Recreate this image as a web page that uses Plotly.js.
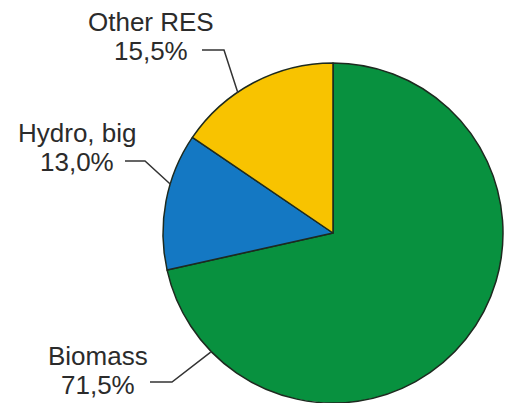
<!DOCTYPE html>
<html>
<head>
<meta charset="utf-8">
<script src="https://cdn.plot.ly/plotly-3.0.1.min.js"></script>
<style>
  html, body { margin: 0; padding: 0; background: #ffffff; }
  #chart { width: 508px; height: 403px; }
</style>
</head>
<body>
<div id="chart"></div>
<script>
// Share of renewable energy sources
const categories = ['Biomass', 'Hydro, big', 'Other RES'];
const shares = [71.5, 13.0, 15.5];
const sliceColors = ['#08913f', '#1478c3', '#f8c300'];

const W = 508, H = 403;

// Label placement: pixel centre x, name line y, value line y,
// and leader route: start near the text, a knee, then an angle on the rim
// (degrees clockwise from 12 o'clock)
const labelPos = [
  { cx: 98,  nameY: 356, valueY: 385, start: [150, 382], knee: [172, 382], rimDeg: 226 },
  { cx: 77,  nameY: 133, valueY: 162, start: [125, 161], knee: [145, 161], rimDeg: 287 },
  { cx: 151, nameY: 22,  valueY: 51,  start: [202, 50],  knee: [224, 50],  rimDeg: 326 }
];

// Pie geometry in pixels
const pieCx = 333, pieCy = 234, pieR = 170;
const domX = [(pieCx - pieR) / W, (pieCx + pieR) / W];
const domY = [0, (2 * pieR) / H];

const px = (x) => x / W;
const py = (y) => 1 - y / H;
const fmt = (v) => v.toFixed(1).replace('.', ',') + '%';
const labelFont = { family: 'Liberation Sans, Arial, sans-serif', size: 26, color: '#2b2b2b' };

const trace = {
  type: 'pie',
  labels: categories,
  values: shares,
  sort: false,
  direction: 'clockwise',
  rotation: 0,
  textinfo: 'none',
  hoverinfo: 'label+percent',
  marker: { colors: sliceColors, line: { color: '#1d2a1f', width: 1.5 } },
  domain: { x: domX, y: domY },
  showlegend: false
};

const textAt = (text, x, y) => ({
  text: text,
  x: px(x), y: py(y),
  xref: 'paper', yref: 'paper',
  xanchor: 'center', yanchor: 'middle',
  showarrow: false,
  font: labelFont
});

const annotations = [];
categories.forEach((c, i) => {
  const p = labelPos[i];
  annotations.push(textAt(c, p.cx, p.nameY));
  annotations.push(textAt(fmt(shares[i]), p.cx, p.valueY));
});

const shapes = labelPos.map((p) => {
  const a = p.rimDeg * Math.PI / 180;
  const rx = pieCx + pieR * Math.sin(a);
  const ry = pieCy - pieR * Math.cos(a);
  return {
    type: 'path',
    xref: 'paper', yref: 'paper',
    path: 'M' + px(p.start[0]) + ',' + py(p.start[1]) +
          ' L' + px(p.knee[0]) + ',' + py(p.knee[1]) +
          ' L' + px(rx) + ',' + py(ry),
    line: { color: '#333333', width: 1.5 }
  };
});

const layout = {
  width: W, height: H,
  margin: { l: 0, r: 0, t: 0, b: 0 },
  paper_bgcolor: '#ffffff',
  plot_bgcolor: '#ffffff',
  annotations: annotations,
  shapes: shapes
};

Plotly.newPlot('chart', [trace], layout, { displayModeBar: false, staticPlot: true });
</script>
</body>
</html>
